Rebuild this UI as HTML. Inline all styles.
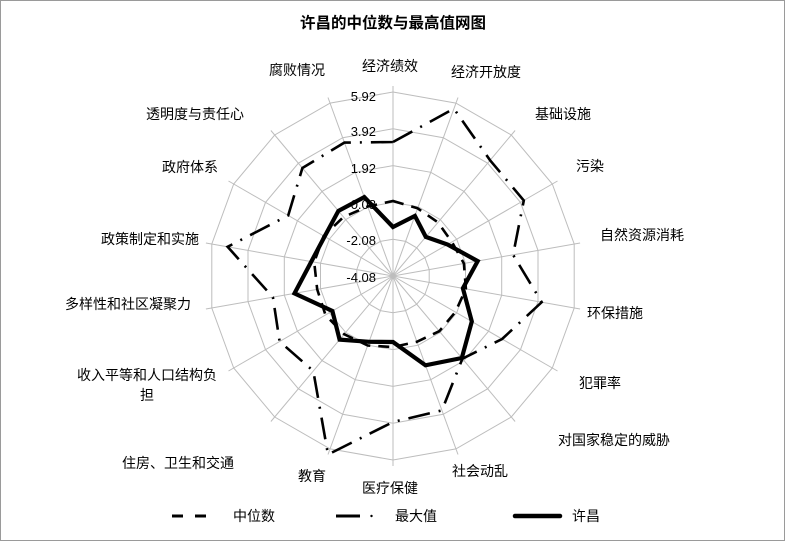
<!DOCTYPE html>
<html><head><meta charset="utf-8"><style>
html,body{margin:0;padding:0;background:#fff;}
svg{display:block;font-family:"Liberation Sans","Noto Sans CJK SC",sans-serif;}
</style></head><body>
<svg id="s" width="786" height="545" viewBox="0 0 786 545" xmlns="http://www.w3.org/2000/svg">
<rect x="0.5" y="0.5" width="784" height="540" fill="#fff" stroke="#9a9a9a" stroke-width="1"/>
<text x="393" y="28" text-anchor="middle" font-size="15.5" font-weight="bold">许昌的中位数与最高值网图</text>
<g id="grid" stroke="#bdbdbd" stroke-width="1" fill="none"></g>
<g id="series" fill="none" stroke="#000" stroke-linejoin="miter"></g>
<g font-size="13" fill="#000" text-anchor="end">
<text x="376" y="101">5.92</text>
<text x="376" y="136">3.92</text>
<text x="376" y="173">1.92</text>
<text x="376" y="209">-0.08</text>
<text x="376" y="245">-2.08</text>
<text x="376" y="282">-4.08</text>
</g>
<g font-size="14" fill="#000" text-anchor="middle">
<text x="390" y="71">经济绩效</text>
<text x="486" y="77">经济开放度</text>
<text x="563" y="119">基础设施</text>
<text x="590" y="171">污染</text>
<text x="642" y="240">自然资源消耗</text>
<text x="615" y="318">环保措施</text>
<text x="600" y="388">犯罪率</text>
<text x="614" y="445">对国家稳定的威胁</text>
<text x="480" y="476">社会动乱</text>
<text x="390" y="493">医疗保健</text>
<text x="312" y="481">教育</text>
<text x="178" y="468">住房、卫生和交通</text>
<text x="147" y="380">收入平等和人口结构负</text>
<text x="147" y="400">担</text>
<text x="128" y="309">多样性和社区凝聚力</text>
<text x="150" y="244">政策制定和实施</text>
<text x="190" y="172">政府体系</text>
<text x="195" y="119">透明度与责任心</text>
<text x="297" y="75">腐败情况</text>
</g>
<g font-size="14" fill="#000">
<line x1="172" y1="516" x2="216" y2="516" stroke="#000" stroke-width="3" stroke-dasharray="11,12"/>
<text x="233" y="521">中位数</text>
<line x1="336" y1="516" x2="360" y2="516" stroke="#000" stroke-width="3"/>
<circle cx="371.5" cy="516" r="1.2" fill="#000"/>
<text x="395" y="521">最大值</text>
<line x1="515" y1="516" x2="560" y2="516" stroke="#000" stroke-width="4.5" stroke-linecap="round"/>
<text x="572" y="521">许昌</text>
</g>
</svg>
<script>
(function(){
var cx=393,cy=276,step=36.8,N=18,ns="http://www.w3.org/2000/svg";
function pt(i,r){var a=i*20*Math.PI/180;return [cx+r*Math.sin(a),cy-r*Math.cos(a)];}
var g=document.getElementById("grid");
for(var k=1;k<=5;k++){var p=[];for(var i=0;i<N;i++){var q=pt(i,k*step);p.push(q[0].toFixed(1)+","+q[1].toFixed(1));}
var e=document.createElementNS(ns,"polygon");e.setAttribute("points",p.join(" "));g.appendChild(e);}
for(var i=0;i<N;i++){var q=pt(i,5*step+6);var l=document.createElementNS(ns,"line");
l.setAttribute("x1",cx);l.setAttribute("y1",cy);l.setAttribute("x2",q[0].toFixed(1));l.setAttribute("y2",q[1].toFixed(1));g.appendChild(l);}
var med=[75,72,70,68,72,74,72,72,70,71,74,76,78,77,80,80,77,74];
var mx=[134,178,151,151,122,151,126,108,143,146,190,124,131,122,168,121,141,142];
var xc=[49,64,51,63,86,71,91,107,95,66,70,83,70,100,83,79,85,84];
var s=document.getElementById("series");
function poly(d,w,dash){var p=[];for(var i=0;i<N;i++){var q=pt(i,d[i]);p.push(q[0].toFixed(1)+","+q[1].toFixed(1));}
var e=document.createElementNS(ns,"polygon");e.setAttribute("points",p.join(" "));e.setAttribute("stroke-width",w);
if(dash)e.setAttribute("stroke-dasharray",dash);s.appendChild(e);}
poly(med,2.6,"11,8");
poly(mx,2.6,"22,9,2,9");
poly(xc,4.2,null);
})();
</script>
</body></html>
